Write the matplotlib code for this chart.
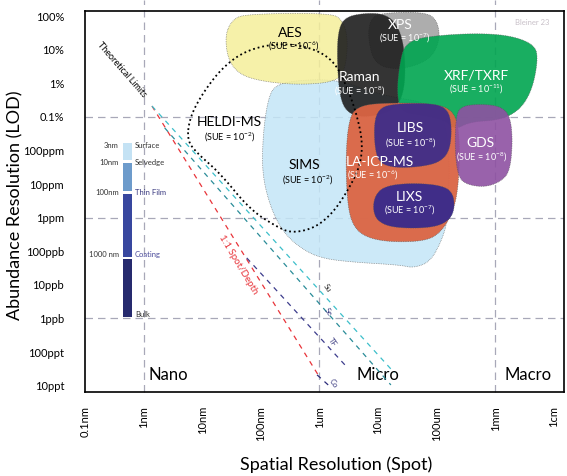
import numpy as np
import matplotlib
matplotlib.use("Agg")
import matplotlib.pyplot as plt

plt.rcParams['font.family'] = ['Lato', 'DejaVu Sans']

# axis ticks (log10 of metres / fraction)
x_ticks = [-10, -9, -8, -7, -6, -5, -4, -3, -2]
x_labels = ['0.1nm', '1nm', '10nm', '100nm', '1um', '10um', '100um', '1mm', '1cm']
y_ticks = [0, -1, -2, -3, -4, -5, -6, -7, -8, -9, -10, -11]
y_labels = ['100%', '10%', '1%', '0.1%', '100ppm', '10ppm', '1ppm',
            '100ppb', '10ppb', '1ppb', '100ppt', '10ppt']

# technique regions, outlines in log10(spot [m]) / log10(LOD)
sims_x = [-6.76, -6.33, -5.65, -4.97, -3.94, -3.77, -3.81, -3.91, -4.11, -4.40,
          -4.62, -5.48, -5.99, -6.33, -6.62, -6.84, -6.98, -6.96, -6.88]
sims_y = [-2.05, -1.90, -1.90, -2.35, -2.65, -3.99, -6.07, -6.67, -7.32, -7.50,
          -7.41, -7.32, -7.20, -6.90, -6.43, -5.68, -4.67, -3.48, -2.50]
aes_x = [-7.61, -7.49, -7.27, -5.82, -5.60, -5.51, -5.56, -5.73, -6.33, -6.93, -7.35, -7.56]
aes_y = [-0.57, -0.12, 0.06, 0.09, -0.12, -0.71, -1.61, -1.96, -2.05, -1.96, -1.76, -1.31]
heldi_x = [-8.26, -8.21, -7.99, -7.65, -7.24, -6.67, -6.11, -5.73, -5.51, -5.36,
           -5.26, -5.31, -5.51, -5.77, -6.08, -6.47, -6.72, -7.18, -7.70, -8.09]
heldi_y = [-3.69, -3.01, -2.29, -1.52, -1.01, -0.80, -0.95, -1.37, -2.20, -2.95,
           -3.78, -4.49, -5.18, -5.86, -6.31, -6.46, -6.28, -5.77, -4.67, -4.08]
xps_x = [-5.17, -5.14, -4.97, -4.20, -3.99, -3.94, -4.11, -4.62, -5.05]
xps_y = [-0.71, -0.12, 0.09, 0.12, -0.12, -0.71, -1.31, -1.61, -1.46]
raman_x = [-5.70, -5.68, -5.56, -5.22, -4.88, -4.66, -4.54, -4.54, -4.71, -5.14, -5.48, -5.65]
raman_y = [-1.31, -0.42, -0.03, 0.09, 0.06, -0.27, -1.01, -2.20, -2.80, -3.01, -2.95, -2.50]
xrf_x = [-4.68, -4.62, -4.54, -4.28, -3.43, -2.75, -2.32, -2.27, -2.37, -2.58,
         -2.92, -3.43, -3.69, -3.86, -4.28, -4.62]
xrf_y = [-2.20, -1.31, -0.86, -0.63, -0.51, -0.57, -0.86, -1.31, -2.20, -2.80,
         -3.10, -3.15, -3.39, -3.10, -2.95, -2.86]
laicp_x = [-5.55, -5.48, -5.31, -4.97, -4.11, -3.69, -3.60, -3.63, -3.74, -3.94,
           -4.20, -4.80, -5.22, -5.44, -5.53]
laicp_y = [-3.99, -2.95, -2.68, -2.59, -2.59, -2.80, -3.69, -5.18, -5.92, -6.46,
           -6.70, -6.73, -6.58, -6.22, -5.48]
libs_x = [-5.07, -5.00, -4.80, -4.11, -3.82, -3.74, -3.77, -3.94, -4.28, -4.71, -4.97, -5.05]
libs_y = [-3.24, -2.80, -2.62, -2.59, -2.74, -3.24, -3.99, -4.35, -4.49, -4.52, -4.38, -3.99]
lixs_x = [-5.09, -5.05, -4.88, -4.45, -3.94, -3.72, -3.69, -3.81, -4.11, -4.71, -5.00]
lixs_y = [-5.77, -5.33, -5.06, -4.97, -5.03, -5.24, -5.77, -6.13, -6.31, -6.31, -6.13]
gds_x = [-3.69, -3.67, -3.57, -3.26, -2.92, -2.75, -2.70, -2.75, -2.92, -3.17, -3.46, -3.63]
gds_y = [-3.99, -2.95, -2.68, -2.62, -2.68, -2.95, -3.69, -4.64, -4.94, -5.09, -5.03, -4.82]

# labels: name, SUE exponent, name pos, SUE pos
tech_names = ['AES', 'HELDI-MS', 'SIMS', 'XPS', 'Raman', 'XRF/TXRF', 'LIBS', 'LA-ICP-MS', 'LIXS', 'GDS']
tech_sue = ['-6', '-2', '-2', '-7', '-8', '-11', '-8', '-6', '-7', '-8']
name_pos = [(-6.50, -0.51), (-7.54, -3.15), (-6.25, -4.43), (-4.62, -0.27), (-5.31, -1.82),
            (-3.32, -1.76), (-4.45, -3.33), (-4.97, -4.35), (-4.47, -5.39), (-3.26, -3.78)]
sue_pos = [(-6.45, -0.89), (-7.54, -3.60), (-6.21, -4.88), (-4.54, -0.68), (-5.31, -2.23),
           (-3.32, -2.17), (-4.45, -3.78), (-5.09, -4.73), (-4.47, -5.77), (-3.23, -4.20)]
name_col = ['black', 'black', 'black', 'white', 'white', 'white', 'white', 'white', 'white', 'white']

# theoretical limit lines (start, end)
lim_names = ['1:1', 'Su', 'Se', 'TF', 'Co']
lim_x = [(-8.857, -5.99), (-8.857, -4.72), (-8.64, -4.78), (-7.24, -5.53), (-6.04, -5.85)]
lim_y = [(-2.68, -10.77), (-2.68, -10.62), (-3.33, -10.98), (-7.20, -10.45), (-10.68, -10.98)]
lim_col = ['#e8343a', '#3cbfca', '#2a8c98', '#3c3c8c', '#2b2b7a']

# layer bar: name, thickness label, top, bottom (log10 LOD)
layer_names = ['Surface', 'Selvedge', 'Thin Film', 'Coating', 'Bulk']
layer_thick = ['3nm', '10nm', '100nm', '1000 nm']
layer_top = [-3.78, -4.38, -5.30, -7.23]
layer_bot = [-4.29, -5.21, -7.17, -8.96]
layer_col = ['#c4e2f4', '#6d9bcb', '#38479f', '#262a6e']
layer_lab_y = [-3.84, -4.35, -5.24, -7.11, -8.87]
layer_lab_col = ['#333333', '#333333', '#3a3a80', '#4a4a9a', '#333333']


def smooth(xs, ys, n=3):
    p = np.column_stack([xs, ys])
    for _ in range(n):
        q = 0.75 * p + 0.25 * np.roll(p, -1, axis=0)
        r = 0.25 * p + 0.75 * np.roll(p, -1, axis=0)
        p = np.empty((2 * len(q), 2))
        p[0::2] = q
        p[1::2] = r
    return 10 ** p[:, 0], 10 ** p[:, 1]


fig = plt.figure(figsize=(5.67, 4.76), dpi=100)
ax = fig.add_axes([85 / 567, 1 - 392 / 476, 479 / 567, 381 / 476])
ax.set_xscale('log')
ax.set_yscale('log')
ax.set_xlim(10 ** -10, 10 ** -1.826)
ax.set_ylim(10 ** -11.19, 10 ** 0.149)

# grid
gcol = '#a8a8b8'
for gx in [-9, -6, -3]:
    ax.plot([10 ** gx] * 2, [0, 1.03], color=gcol, lw=0.9, dashes=(6, 4),
            transform=ax.get_xaxis_transform(), clip_on=False, zorder=1)
for gy in [-3, -6, -9]:
    ax.plot([0, 1], [10 ** gy] * 2, color=gcol, lw=0.9, dashes=(6, 4),
            transform=ax.get_yaxis_transform(), zorder=1)

# regions
edge = dict(edgecolor='#555555', lw=0.5, linestyle=(0, (1, 1.5)))
for xs, ys, col, a, z in [(sims_x, sims_y, '#c4e6f7', 0.85, 2),
                          (aes_x, aes_y, '#f5ef9a', 0.85, 3),
                          (xps_x, xps_y, '#a9a9a9', 0.95, 4),
                          (raman_x, raman_y, '#1e1e1e', 0.9, 5),
                          (xrf_x, xrf_y, '#00a550', 0.9, 6),
                          (laicp_x, laicp_y, '#db6443', 0.95, 7),
                          (libs_x, libs_y, '#33288e', 0.88, 8),
                          (lixs_x, lixs_y, '#33288e', 0.92, 8),
                          (gds_x, gds_y, '#8e51a2', 0.9, 9)]:
    sx, sy = smooth(xs, ys)
    ax.fill(sx, sy, facecolor=col, alpha=a, zorder=z, **edge)

hx, hy = smooth(heldi_x, heldi_y)
ax.fill(hx, hy, facecolor='none', edgecolor='black', lw=1.3, linestyle=(0, (1, 1.6)), zorder=10)

for i, name in enumerate(tech_names):
    ax.text(10 ** name_pos[i][0], 10 ** name_pos[i][1], name, color=name_col[i],
            fontsize=10, ha='center', va='center', zorder=12)
    ax.text(10 ** sue_pos[i][0], 10 ** sue_pos[i][1],
            '(SUE = 10$^{\\mathregular{' + tech_sue[i] + '}}$)', color=name_col[i],
            fontsize=6.5, ha='center', va='center', zorder=12)

# theoretical limits
for i in range(len(lim_names)):
    ax.plot(10 ** np.array(lim_x[i]), 10 ** np.array(lim_y[i]), color=lim_col[i],
            lw=0.9, dashes=(4, 4), zorder=11)
ax.text(10 ** -9.37, 10 ** -1.61, 'Theoretical Limits', rotation=-49, fontsize=6.5,
        ha='center', va='center')
ax.text(10 ** -7.39, 10 ** -7.41, '1:1 Spot/Depth', rotation=-59, fontsize=7,
        color='#e8343a', ha='center', va='center')
for lab, px, py, c in [('Su', -5.87, -8.10, '#333333'), ('Se', -5.85, -8.81, '#3a3a80'),
                       ('TF', -5.77, -9.70, '#3a3a80'), ('Co', -5.77, -10.92, '#3a3a80')]:
    ax.text(10 ** px, 10 ** py, lab, rotation=-55, fontsize=5.5, color=c,
            ha='center', va='center', zorder=12)

# layer bar
bx0, bx1 = 10 ** -9.35, 10 ** -9.198
for i in range(len(layer_top)):
    ax.bar(bx0, 10 ** layer_top[i] - 10 ** layer_bot[i], bottom=10 ** layer_bot[i],
           width=bx1 - bx0, align='edge', color=layer_col[i], zorder=3)
for i, t in enumerate(layer_thick):
    ax.text(10 ** -9.42, 10 ** layer_lab_y[i], t, fontsize=5.5, color='#333333',
            ha='right', va='center')
for i, t in enumerate(layer_names):
    ax.text(10 ** -9.147, 10 ** layer_lab_y[i], t, fontsize=5.5, color=layer_lab_col[i],
            ha='left', va='center')

# regimes
for lab, px in [('Nano', -8.57), ('Micro', -5.00), ('Macro', -2.44)]:
    ax.text(10 ** px, 10 ** -10.68, lab, fontsize=12, ha='center', va='center')
ax.text(10 ** -2.37, 10 ** -0.18, 'Bleiner 23', fontsize=5.5, color='#c8c0c8',
        ha='center', va='center')

ax.set_xticks([10.0 ** v for v in x_ticks])
ax.set_xticklabels(x_labels, rotation=90, fontsize=8)
ax.set_yticks([10.0 ** v for v in y_ticks])
ax.set_yticklabels(y_labels, fontsize=8)
ax.minorticks_off()
ax.tick_params(axis='x', length=0, pad=10)
ax.tick_params(axis='y', length=0, pad=15)
for s in ax.spines.values():
    s.set_linewidth(1.2)

fig.text(336 / 567, 1 - 465 / 476, 'Spatial Resolution (Spot)', fontsize=13,
         ha='center', va='center')
fig.text(15 / 567, 1 - 205 / 476, 'Abundance Resolution (LOD)', fontsize=13,
         ha='center', va='center', rotation=90)

fig.savefig('out.png', dpi=100)
